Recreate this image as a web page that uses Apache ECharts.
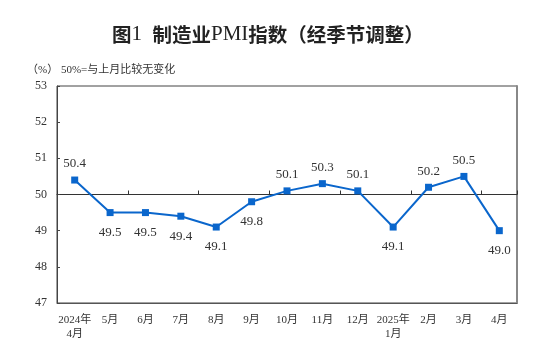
<!DOCTYPE html>
<html>
<head>
<meta charset="utf-8">
<script src="https://cdn.jsdelivr.net/npm/echarts@6/dist/echarts.min.js"></script>
<style>html,body{margin:0;padding:0;background:#fff;}#c{width:547px;height:359px;}</style>
</head>
<body>
<div id="c"></div>
<script>
var categories = ['2024年\n4月','5月','6月','7月','8月','9月','10月','11月','12月','2025年\n1月','2月','3月','4月'];
var pmiValues = [50.4, 49.5, 49.5, 49.4, 49.1, 49.8, 50.1, 50.3, 50.1, 49.1, 50.2, 50.5, 49.0];
var yTicks = [47, 48, 49, 50, 51, 52, 53];
var baseline = 50;

var serif = "'Liberation Serif', 'Times New Roman', 'Noto Sans CJK SC', serif";
var chart = echarts.init(document.getElementById('c'), null, {renderer: 'canvas'});
var gridTop = 86, gridBottom = 56, H = 359;
var gridH = H - gridTop - gridBottom;
var yMin = yTicks[0], yMax = yTicks[yTicks.length - 1];
var baseOffset = -gridH * (baseline - yMin) / (yMax - yMin);

chart.setOption({
  animation: false,
  backgroundColor: '#fff',
  title: {
    text: '{c|图}{l|1  }{c|制造业}{l|PMI}{c|指数（经季节调整）}',
    left: 107, top: 19,
    textStyle: {
      fontSize: 20, color: '#222',
      rich: {
        c: {fontFamily: "'Noto Sans CJK SC', sans-serif", fontSize: 19.5, fontWeight: 'bold', color: '#222'},
        l: {fontFamily: serif, fontSize: 21, fontWeight: 'normal', color: '#222'}
      }
    }
  },
  graphic: [{
    type: 'text', left: 27, top: 65,
    style: {text: '（%） 50%=与上月比较无变化', font: "11px 'Liberation Serif', 'Noto Sans CJK SC'", fill: '#333'}
  }],
  grid: {left: 57, right: 30, top: gridTop, bottom: gridBottom, show: true, borderColor: '#444', borderWidth: 1, backgroundColor: 'transparent'},
  xAxis: [{
    type: 'category', data: categories, position: 'bottom', boundaryGap: true,
    axisLine: {show: true, lineStyle: {color: '#555', width: 1}},
    axisTick: {show: false},
    axisLabel: {interval: 0, margin: 10, fontFamily: serif, fontSize: 11, color: '#333', lineHeight: 14}
  }, {
    type: 'category', data: categories, position: 'bottom', offset: baseOffset, boundaryGap: true,
    axisLine: {show: true, onZero: false, lineStyle: {color: '#333', width: 1}},
    axisTick: {show: true, inside: true, length: 4, lineStyle: {color: '#333'}},
    axisLabel: {show: false}
  }],
  yAxis: [{
    type: 'value', min: yMin, max: yMax, interval: 1,
    axisLine: {show: true, lineStyle: {color: '#444'}},
    axisTick: {show: true, inside: true, length: 3, lineStyle: {color: '#444'}},
    axisLabel: {margin: 10, fontFamily: serif, fontSize: 12, color: '#333'},
    splitLine: {show: false}
  }, {
    type: 'value', min: yMin, max: yMax, interval: 1, position: 'right',
    axisLine: {show: true, lineStyle: {color: '#888', width: 2}},
    axisTick: {show: false}, axisLabel: {show: false}, splitLine: {show: false}
  }],
  series: [{
    type: 'line', xAxisIndex: 0, yAxisIndex: 0,
    data: pmiValues.map(function (v) {
      var up = v >= baseline;
      return {value: v, label: {position: up ? 'top' : 'bottom', distance: up ? 6 : 10}};
    }),
    symbol: 'rect', symbolSize: 7,
    itemStyle: {color: '#0a66cc'},
    lineStyle: {color: '#0a66cc', width: 2},
    label: {show: true, fontFamily: serif, fontSize: 13, color: '#333', formatter: function (p) { return p.value.toFixed(1); }}
  }]
});
</script>
</body>
</html>
